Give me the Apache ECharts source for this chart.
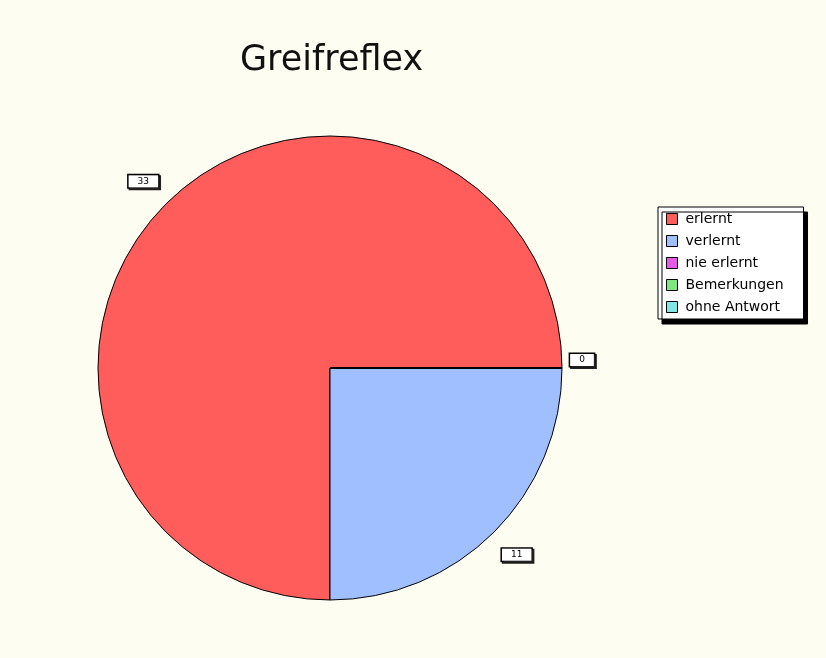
<!DOCTYPE html>
<html>
<head>
<meta charset="utf-8">
<script src="https://cdn.jsdelivr.net/npm/echarts@6/dist/echarts.min.js"></script>
<style>
html,body{margin:0;padding:0;background:#fdfdf1;}
#chart{width:826px;height:658px;}
</style>
</head>
<body>
<div id="chart"></div>
<script>
var titleText = 'Greifreflex';
var categories = ['erlernt', 'verlernt', 'nie erlernt', 'Bemerkungen', 'ohne Antwort'];
var values = [33, 11, 0, 0, 0];
var colors = ['#ff5c5c', '#9fbfff', '#e659e6', '#80e680', '#80e6e6'];
var showLabel = [true, true, true, false, false];

var chart = echarts.init(document.getElementById('chart'));

var mainData = categories.map(function (c, i) {
  return { name: c, value: values[i], itemStyle: { color: colors[i] } };
});
var labelData = categories.map(function (c, i) {
  var lbl = { show: showLabel[i] };
  if (values[i] === 0) { lbl.offset = [-12, -8]; }
  return { name: c, value: values[i], label: lbl };
});

chart.setOption({
  backgroundColor: '#fdfdf1',
  animation: false,
  title: {
    text: titleText,
    left: 235,
    top: 38,
    textStyle: { fontFamily: 'DejaVu Sans', fontSize: 35, fontWeight: 'normal', color: '#111' }
  },
  legend: {
    orient: 'vertical',
    left: 658,
    top: 207,
    data: categories,
    backgroundColor: '#ffffff',
    borderColor: '#000',
    borderWidth: 1,
    shadowColor: '#000',
    shadowBlur: 0,
    shadowOffsetX: 4,
    shadowOffsetY: 5,
    padding: [5, 20, 5, 8],
    itemGap: 8,
    itemWidth: 11,
    itemHeight: 11,
    icon: 'rect',
    itemStyle: { borderColor: '#000', borderWidth: 1 },
    textStyle: { fontFamily: 'DejaVu Sans', fontSize: 14, color: '#000', padding: [0, 0, 0, 3] },
    selectedMode: false
  },
  series: [
    {
      type: 'pie',
      center: [330, 368],
      radius: 232,
      startAngle: 0,
      clockwise: false,
      avoidLabelOverlap: false,
      silent: true,
      label: { show: false },
      labelLine: { show: false },
      itemStyle: { borderColor: '#000', borderWidth: 1 },
      data: mainData
    },
    {
      type: 'pie',
      center: [330, 368],
      radius: [232, 290],
      startAngle: 0,
      clockwise: false,
      avoidLabelOverlap: false,
      silent: true,
      itemStyle: { color: 'rgba(0,0,0,0)', borderWidth: 0 },
      labelLine: { show: false },
      label: {
        show: true,
        position: 'inside',
        formatter: '{c}',
        fontFamily: 'DejaVu Sans',
        fontSize: 9,
        color: '#000',
        backgroundColor: '#ffffff',
        borderColor: '#000',
        borderWidth: 1.5,
        padding: [2, 9, 1, 9],
        shadowColor: '#222',
        shadowBlur: 0,
        shadowOffsetX: 1.5,
        shadowOffsetY: 1.5
      },
      data: labelData
    }
  ]
});
</script>
</body>
</html>
